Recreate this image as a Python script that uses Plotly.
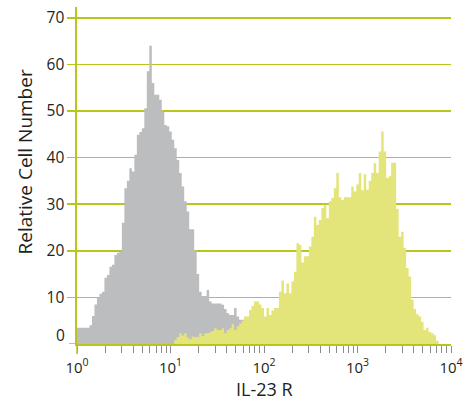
import numpy as np
import plotly.graph_objects as go

# ---- data -------------------------------------------------------------
n_bins = 150                 # channels spread over 4 decades (10^0 .. 10^4)
decades = 4

gray_counts = [
    3.5, 3.5, 3.5, 3.5, 3.5, 4, 6, 8.5, 10, 10.8,
    11.2, 14.2, 14.8, 16.6, 17, 19.1, 19.6, 19.8, 26, 33.4,
    35, 37.7, 37, 40.6, 44.9, 45.5, 46.3, 50.6, 58.5, 64,
    56, 53.5, 53.5, 52.4, 49.9, 47, 46.7, 45.6, 43.8, 42,
    39.5, 36.7, 33.8, 30.6, 28.4, 24.6, 24.6, 20, 15, 11.2,
    10.3, 10.3, 11.6, 9.1, 8.7, 8.7, 8.7, 8.7, 8.4, 7.5,
    6.6, 6.2, 6.2, 7.7, 5.9, 5.2, 5.2, 4.8, 4, 3.5,
    3, 2.5, 2, 1.5, 1, 0.8, 0.5, 0, 0, 0,
] + [0] * 70

yellow_counts = [0] * 39 + [
    0.9, 1.5, 2.3, 1.8, 2.3, 1.4, 1.0, 1.6, 1.5, 1.5, 2.3,
    1.7, 2.3, 2.3, 2.5, 2.8, 3.4, 3, 3, 3.4, 2.3,
    3, 3.4, 4.3, 3, 3.8, 4.4, 5, 5.9, 5.9, 7.3,
    8.2, 9.1, 9.1, 8.5, 7.7, 5.9, 7.7, 6.2, 7.2, 7.7,
    7.7, 11.2, 13.6, 10.9, 13, 10.9, 13.4, 15.5, 21.6, 21.3,
    17.5, 18.8, 18.8, 20.9, 23, 27.3, 25.6, 26.6, 29.2, 29.9,
    27, 30.6, 31.3, 33.4, 36.7, 31.5, 30.9, 31.5, 31.5, 31.5,
    33.8, 32.7, 34.2, 36.7, 33, 36.4, 33.1, 35, 36.7, 38.8,
    36.7, 41.3, 45.6, 41.3, 35.6, 36, 38.9, 38.9, 29, 23,
    24.1, 20.6, 16.3, 14.5, 9.5, 7.5, 6.4, 5.9, 4.8, 3,
    3.5, 2.6, 2.3, 1.9, 0.7, 0, 0, 0, 0, 0,
]

y_ticks = [10, 20, 30, 40, 50, 60, 70]
y_zero_label = "0"
x_decade_ticks = [1, 10, 100, 1000, 10000]
x_decade_labels = ["10<sup>0</sup>", "10<sup>1</sup>", "10<sup>2</sup>",
                   "10<sup>3</sup>", "10<sup>4</sup>"]
x_title = "IL-23 R"
y_title = "Relative Cell Number"

# ---- derived ----------------------------------------------------------
edges = 10 ** (np.arange(n_bins + 1) * decades / n_bins)

minor_vals = []
for d in range(decades):
    for m in range(2, 10):
        minor_vals.append(m * 10 ** d)

GREEN = "#b8c61c"
GRAY = "#bcbdbf"
YELLOW = "#e3e479"
TICKGRAY = "#8c8c8c"
TEXT = "#231f20"
FONT = "Open Sans"


def step_trace(counts, color):
    return go.Scatter(
        x=edges,
        y=list(counts) + [0],
        mode="lines",
        line=dict(shape="hv", width=0, color=color),
        fill="tozeroy",
        fillcolor=color,
        hoverinfo="skip",
        showlegend=False,
    )


fig = go.Figure()
fig.add_trace(step_trace(gray_counts, GRAY))
fig.add_trace(step_trace(yellow_counts, YELLOW))

fig.update_layout(
    width=472,
    height=402,
    margin=dict(l=77, r=21, t=7, b=58, autoexpand=False),
    plot_bgcolor="white",
    paper_bgcolor="white",
    font=dict(family=FONT, size=15.5, color=TEXT),
    xaxis=dict(
        type="log",
        range=[0, decades],
        showgrid=False,
        zeroline=False,
        showline=True,
        linecolor=GREEN,
        linewidth=1.5,
        ticks="outside",
        ticklen=7,
        tickwidth=1,
        tickcolor=TICKGRAY,
        ticklabelstandoff=2,
        tickvals=x_decade_ticks,
        ticktext=x_decade_labels,
        tickfont=dict(size=15),
        minor=dict(
            ticks="outside",
            ticklen=7,
            tickwidth=1,
            tickcolor=TICKGRAY,
            tickmode="array",
            tickvals=minor_vals,
            showgrid=False,
        ),
        automargin=False,
    ),
    yaxis=dict(
        range=[0, 72.3],
        showgrid=True,
        gridcolor=GREEN,
        gridwidth=1.6,
        zeroline=False,
        showline=True,
        linecolor=GREEN,
        linewidth=1.6,
        ticks="outside",
        ticklen=8,
        tickwidth=1.6,
        tickcolor=GREEN,
        tickvals=y_ticks,
        tickfont=dict(size=15.5),
        automargin=False,
    ),
    annotations=[
        dict(text=y_zero_label, xref="paper", yref="y", x=0, y=0,
             xanchor="right", yanchor="middle", xshift=-10, yshift=9,
             showarrow=False, font=dict(size=15.5)),
        dict(text=y_title, xref="paper", yref="paper", x=-0.139, y=0.5386,
             xanchor="center", yanchor="middle", textangle=-90,
             showarrow=False, font=dict(size=19)),
        dict(text=x_title, xref="paper", yref="paper", x=0.5, y=-0.135,
             xanchor="center", yanchor="middle", showarrow=False,
             borderpad=0, font=dict(size=18)),
    ],
    shapes=[
        # y-axis line continues a little below the x-axis
        dict(type="line", xref="paper", yref="paper", x0=0, x1=0,
             y0=0, y1=-10 / 337, line=dict(color=GREEN, width=1.6)),
        # short tick at y = 0 to the left of the axis
        dict(type="line", xref="paper", yref="y", x0=-8 / 374, x1=0,
             y0=0, y1=0, line=dict(color=GREEN, width=1.6)),
    ],
)

fig.write_html(
    "out.html",
    config={"displayModeBar": False, "staticPlot": True},
    post_script="document.body.style.margin='0';",
)
